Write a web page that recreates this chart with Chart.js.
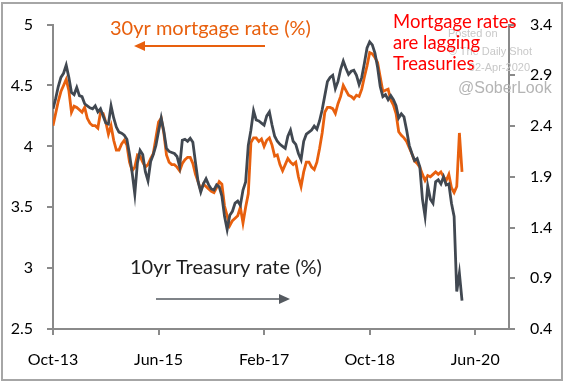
<!DOCTYPE html>
<html><head><meta charset="utf-8">
<script src="https://cdn.jsdelivr.net/npm/chart.js@4/dist/chart.umd.min.js"></script>
<style>html,body{margin:0;padding:0;background:#fff}#wrap{width:564px;height:383px;position:relative}</style>
</head><body><div id="wrap"><canvas id="c" width="564" height="383"></canvas></div>
<script>
// x axis: months since Oct-2013
const xTickMonths = [0, 20, 40, 60, 80];
const xTickLabels = ['Oct-13', 'Jun-15', 'Feb-17', 'Oct-18', 'Jun-20'];
const leftTicks = [2.5, 3, 3.5, 4, 4.5, 5];
const rightTicks = [0.4, 0.9, 1.4, 1.9, 2.4, 2.9, 3.4];
// half-monthly observations starting Oct-2013
const monthsPerObs = 0.5;
const treasury10y = [
  2.57, 2.67, 2.79, 2.88, 2.92, 3.00, 2.88, 2.73, 2.71, 2.78,
  2.70, 2.69, 2.62, 2.60, 2.58, 2.57, 2.60, 2.54, 2.57, 2.50,
  2.43, 2.42, 2.60, 2.48, 2.39, 2.34, 2.33, 2.31, 2.27, 2.12,
  1.94, 1.73, 2.04, 2.16, 2.12, 1.95, 1.86, 2.05, 2.12, 2.21,
  2.35, 2.48, 2.35, 2.18, 2.15, 2.14, 2.13, 2.10, 2.00, 2.26,
  2.27, 2.25, 2.28, 2.24, 2.04, 1.85, 1.75, 1.83, 1.88, 1.82,
  1.78, 1.77, 1.82, 1.80, 1.71, 1.51, 1.38, 1.52, 1.56, 1.64,
  1.66, 1.62, 1.77, 1.85, 2.21, 2.36, 2.55, 2.46, 2.45, 2.43,
  2.41, 2.50, 2.54, 2.41, 2.30, 2.25, 2.22, 2.20, 2.18, 2.30,
  2.36, 2.25, 2.22, 2.13, 2.07, 2.25, 2.32, 2.34, 2.36, 2.40,
  2.37, 2.45, 2.56, 2.70, 2.84, 2.88, 2.90, 2.77, 2.84, 2.96,
  3.04, 2.97, 2.91, 2.94, 2.95, 2.90, 2.81, 2.88, 3.02, 3.17,
  3.23, 3.20, 3.12, 2.98, 2.79, 2.69, 2.71, 2.66, 2.70, 2.66,
  2.60, 2.48, 2.52, 2.49, 2.36, 2.21, 2.13, 2.06, 2.08, 2.00,
  1.68, 1.51, 1.81, 1.68, 1.64, 1.85, 1.87, 1.83, 1.90, 1.82,
  1.83, 1.64, 1.51, 0.77, 0.95, 0.68
];
const mortgage30y = [
  4.17, 4.27, 4.37, 4.45, 4.50, 4.55, 4.46, 4.28, 4.33, 4.32,
  4.30, 4.28, 4.32, 4.23, 4.19, 4.17, 4.17, 4.15, 4.28, 4.27,
  4.20, 4.10, 4.17, 4.05, 3.97, 3.97, 4.02, 4.05, 4.01, 3.87,
  3.80, 3.83, 3.93, 3.92, 3.87, 3.83, 3.85, 3.90, 3.94, 4.07,
  4.20, 4.23, 4.11, 3.93, 3.87, 3.85, 3.85, 3.83, 3.80, 3.86,
  3.89, 3.91, 3.91, 3.86, 3.77, 3.71, 3.64, 3.69, 3.67, 3.65,
  3.63, 3.62, 3.66, 3.71, 3.69, 3.51, 3.43, 3.35, 3.39, 3.41,
  3.43, 3.50, 3.37, 3.50, 3.61, 4.03, 4.07, 4.07, 4.04, 4.06,
  4.00, 4.05, 4.07, 4.01, 3.92, 3.93, 3.85, 3.80, 3.85, 3.90,
  3.87, 3.85, 3.87, 3.75, 3.67, 3.79, 3.87, 3.87, 3.83, 3.81,
  3.87, 3.98, 4.11, 4.28, 4.32, 4.32, 4.31, 4.27, 4.35, 4.41,
  4.50, 4.46, 4.42, 4.41, 4.39, 4.42, 4.41, 4.47, 4.57, 4.66,
  4.77, 4.76, 4.73, 4.69, 4.57, 4.45, 4.46, 4.47, 4.38, 4.34,
  4.27, 4.12, 4.09, 4.07, 4.04, 3.99, 3.94, 3.88, 3.86, 3.83,
  3.77, 3.72, 3.76, 3.75, 3.77, 3.79, 3.77, 3.79, 3.75, 3.72,
  3.77, 3.66, 3.62, 3.67, 4.11, 3.79
];

const ORANGE = '#E8600E';
const GRAY = '#414851';
const AXIS = '#8a8a8a';
const FONT = 'Lato';

function arrow(ctx, x1, y, x2, color, w) {
  const dir = Math.sign(x2 - x1);
  ctx.strokeStyle = color; ctx.fillStyle = color; ctx.lineWidth = w;
  ctx.beginPath(); ctx.moveTo(x1, y); ctx.lineTo(x2 - dir * 8, y); ctx.stroke();
  ctx.beginPath(); ctx.moveTo(x2, y); ctx.lineTo(x2 - dir * 11, y - 5); ctx.lineTo(x2 - dir * 11, y + 5); ctx.closePath(); ctx.fill();
}

const annot = {
  id: 'annot',
  afterDraw(chart) {
    const ctx = chart.ctx;
    ctx.save();
    // watermark
    ctx.fillStyle = '#c8c8c8';
    ctx.font = '11px "Liberation Sans"';
    ctx.textAlign = 'left'; ctx.textBaseline = 'alphabetic';
    ctx.fillText('Posted on', 448, 37);
    ctx.textAlign = 'right';
    ctx.fillText('\u00a9 The Daily Shot', 532, 55);
    ctx.fillText('02-Apr-2020', 530, 71);
    ctx.fillStyle = '#b4b4b4';
    ctx.font = '16px "Liberation Sans"';
    ctx.textAlign = 'left';
    ctx.fillText('@SoberLook', 458, 93);
    // orange label
    ctx.font = '20px ' + FONT;
    ctx.fillStyle = ORANGE;
    ctx.fillText('30yr mortgage rate (%)', 110, 35);
    arrow(ctx, 265, 46, 134, ORANGE, 2);
    // treasury label
    ctx.fillStyle = '#1e1e1e';
    ctx.fillText('10yr Treasury rate (%)', 130, 274);
    arrow(ctx, 156, 299, 290, '#555a60', 1.6);
    // red note
    ctx.font = '18.5px ' + FONT;
    ctx.fillStyle = '#FF0000';
    ctx.fillText('Mortgage rates', 393, 28);
    ctx.fillText('are lagging', 393, 49);
    ctx.fillText('Treasuries', 393, 70);
    // frame
    ctx.strokeStyle = '#a6a6a6'; ctx.lineWidth = 2;
    ctx.strokeRect(2, 3, 560, 377);
    ctx.restore();
  }
};

const tickFont = { family: FONT, size: 16 };

new Chart(document.getElementById('c'), {
  type: 'line',
  data: {
    datasets: [
      {
        label: '10yr Treasury rate (%)',
        data: treasury10y.map((v, i) => ({ x: i * monthsPerObs, y: v })),
        yAxisID: 'y1', borderColor: GRAY, borderWidth: 2.8, pointRadius: 0, tension: 0
      },
      {
        label: '30yr mortgage rate (%)',
        data: mortgage30y.map((v, i) => ({ x: i * monthsPerObs, y: v })),
        yAxisID: 'y', borderColor: ORANGE, borderWidth: 2.8, pointRadius: 0, tension: 0
      }
    ]
  },
  options: {
    responsive: false, animation: false, devicePixelRatio: 1,
    layout: { padding: { top: 16, left: 0, right: 0, bottom: 0 } },
    plugins: { legend: { display: false }, tooltip: { enabled: false } },
    scales: {
      x: {
        type: 'linear', position: 'bottom', min: 0, max: 86.4,
        afterBuildTicks: s => { s.ticks = xTickMonths.map(v => ({ value: v })); },
        ticks: { callback: (v, i) => xTickLabels[i], font: tickFont, color: '#000', padding: 15, maxRotation: 0, autoSkip: false },
        grid: { drawOnChartArea: false, drawTicks: true, tickLength: 6, color: AXIS, lineWidth: 2 },
        border: { display: true, color: AXIS, width: 2 },
        afterFit: s => { s.height = 54; }
      },
      y: {
        type: 'linear', position: 'left', min: 2.5, max: 5,
        afterBuildTicks: s => { s.ticks = leftTicks.map(v => ({ value: v })); },
        ticks: { callback: v => String(v), font: tickFont, color: '#000', padding: 14 },
        grid: { drawOnChartArea: false, drawTicks: true, tickLength: 6, color: AXIS, lineWidth: 2 },
        border: { display: true, color: AXIS, width: 2 },
        afterFit: s => { s.width = 53; }
      },
      y1: {
        type: 'linear', position: 'right', min: 0.4, max: 3.4,
        afterBuildTicks: s => { s.ticks = rightTicks.map(v => ({ value: v })); },
        ticks: { callback: v => v.toFixed(1), font: tickFont, color: '#000', padding: 15 },
        grid: { drawOnChartArea: false, drawTicks: true, tickLength: 6, color: AXIS, lineWidth: 2 },
        border: { display: true, color: AXIS, width: 2 },
        afterFit: s => { s.width = 55; }
      }
    }
  },
  plugins: [annot]
});
</script>
</body></html>
